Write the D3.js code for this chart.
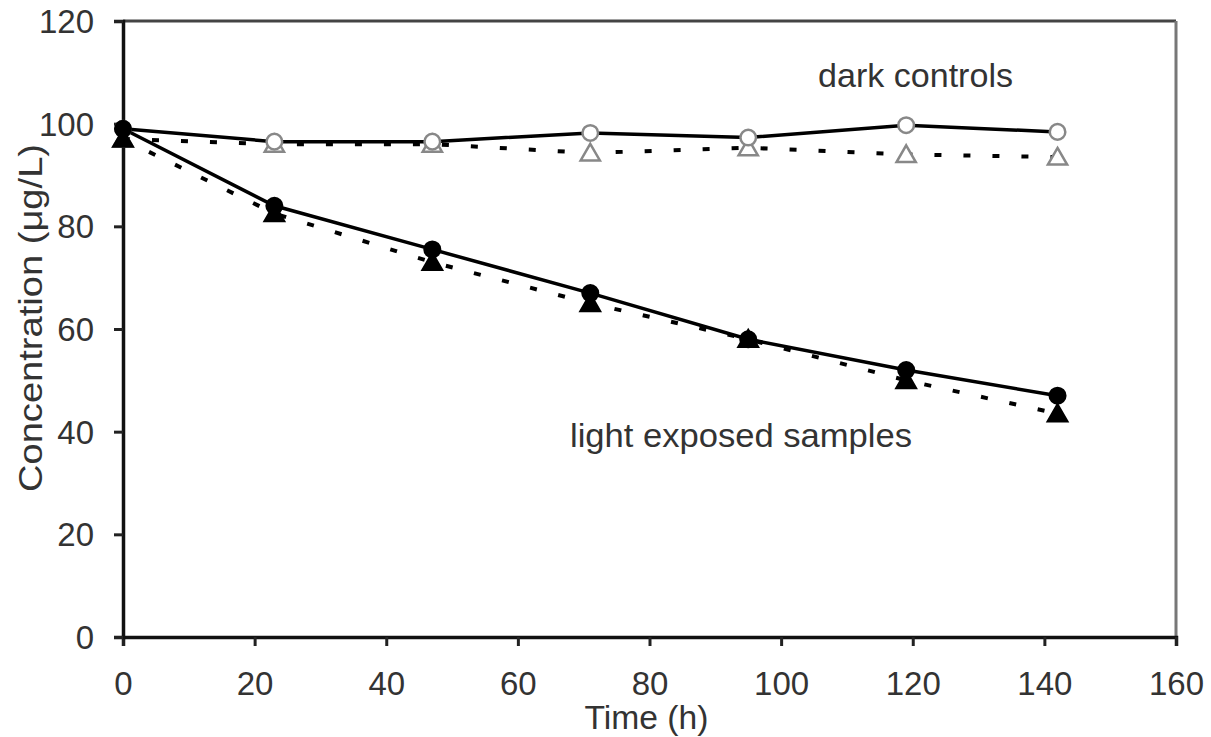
<!DOCTYPE html>
<html>
<head>
<meta charset="utf-8">
<script src="https://cdn.jsdelivr.net/npm/d3@7"></script>
<style>
  body { margin: 0; background: #fff; }
  text { font-family: "Liberation Sans", Arial, sans-serif; }
</style>
</head>
<body>
<div class="chart"></div>
<script>
var svgWidth = 1211;
var svgHeight = 737;

var margin = { top: 21, right: 35, bottom: 100, left: 123 };
var width = svgWidth - margin.left - margin.right;
var height = svgHeight - margin.top - margin.bottom;

// sampling times (h)
var times = [0, 23, 47, 71, 95, 119, 142];
// light exposed samples
var lightCircle = [99, 84, 75.5, 67, 58, 52, 47];
var lightTriangle = [97, 82.5, 73, 65, 58, 50, 43.5];
// dark controls
var darkCircle = [99, 96.5, 96.5, 98.2, 97.3, 99.7, 98.4];
var darkTriangle = [97, 96, 96, 94.3, 95.3, 94, 93.5];

var xTicks = [0, 20, 40, 60, 80, 100, 120, 140, 160];
var yTicks = [0, 20, 40, 60, 80, 100, 120];

var textColor = "#333";
var fontSize = "33px";

var $svg = d3.select(".chart")
    .append("svg")
    .attr("width", svgWidth)
    .attr("height", svgHeight);

var $chartGroup = $svg.append("g")
    .attr("transform", `translate(${margin.left}, ${margin.top})`);

var xScale = d3.scaleLinear().domain([0, 160]).range([0, width]);
var yScale = d3.scaleLinear().domain([0, 120]).range([height, 0]);

// frame top / right
$chartGroup.append("line")
    .attr("x1", 0).attr("x2", width).attr("y1", 0).attr("y2", 0)
    .attr("stroke", "#444").attr("stroke-width", 3);
$chartGroup.append("line")
    .attr("x1", width).attr("x2", width).attr("y1", 0).attr("y2", height)
    .attr("stroke", "#777").attr("stroke-width", 3);

var xAxis = d3.axisBottom(xScale).tickValues(xTicks).tickSize(9).tickPadding(26);
var yAxis = d3.axisLeft(yScale).tickValues(yTicks).tickSize(9).tickPadding(20);

var $xAxis = $chartGroup.append("g")
    .attr("transform", `translate(0,${height})`)
    .call(xAxis);
var $yAxis = $chartGroup.append("g").call(yAxis);

[$xAxis, $yAxis].forEach(ax => {
    ax.select(".domain").attr("stroke", "#111").attr("stroke-width", 3.5);
    ax.selectAll(".tick line").attr("stroke", "#222").attr("stroke-width", 3);
    ax.selectAll(".tick text")
        .attr("fill", textColor)
        .style("font-size", fontSize);
});
$yAxis.selectAll(".tick text").attr("dy", "0.35em");

// lines
var line = d3.line()
    .x(d => xScale(d[0]))
    .y(d => yScale(d[1]));

function pairs(vals) { return times.map((t, i) => [t, vals[i]]); }

var series = [
    { vals: darkTriangle, dash: "7,22", shape: "triangle", fill: "#fff", stroke: "#888" },
    { vals: darkCircle, dash: null, shape: "circle", fill: "#fff", stroke: "#888" },
    { vals: lightTriangle, dash: "7,22", shape: "triangle", fill: "#000", stroke: "#000" },
    { vals: lightCircle, dash: null, shape: "circle", fill: "#000", stroke: "#000" }
];

series.forEach(s => {
    $chartGroup.append("path")
        .datum(pairs(s.vals))
        .attr("fill", "none")
        .attr("stroke", "#000")
        .attr("stroke-width", s.dash ? 4 : 3.5)
        .attr("stroke-dasharray", s.dash)
        .attr("d", line);
});

series.forEach(s => {
    var sym = d3.symbol()
        .type(s.shape == "circle" ? d3.symbolCircle : d3.symbolTriangle)
        .size(s.shape == "circle" ? 190 : 160);
    $chartGroup.selectAll(null)
        .data(pairs(s.vals))
        .enter()
        .append("path")
        .attr("d", sym)
        .attr("transform", d => `translate(${xScale(d[0])},${yScale(d[1]) + (s.shape == "triangle" ? 2 : 0)})`)
        .attr("fill", s.fill)
        .attr("stroke", s.stroke)
        .attr("stroke-width", 2.5);
});

// annotations
$chartGroup.append("text")
    .attr("x", 818 - margin.left).attr("y", 87 - margin.top)
    .attr("textLength", 195)
    .attr("lengthAdjust", "spacingAndGlyphs")
    .attr("fill", textColor)
    .style("font-size", fontSize)
    .text("dark controls");

$chartGroup.append("text")
    .attr("x", 570 - margin.left).attr("y", 447 - margin.top)
    .attr("textLength", 342)
    .attr("lengthAdjust", "spacingAndGlyphs")
    .attr("fill", textColor)
    .style("font-size", fontSize)
    .text("light exposed samples");

// axis titles
$chartGroup.append("text")
    .attr("x", width / 2 - 3).attr("y", height + 92)
    .attr("text-anchor", "middle")
    .attr("textLength", 124)
    .attr("lengthAdjust", "spacingAndGlyphs")
    .attr("fill", textColor)
    .style("font-size", fontSize)
    .text("Time (h)");

$chartGroup.append("text")
    .attr("transform", `translate(-81,${318 - margin.top}) rotate(-90)`)
    .attr("text-anchor", "middle")
    .attr("textLength", 348)
    .attr("lengthAdjust", "spacingAndGlyphs")
    .attr("fill", textColor)
    .style("font-size", fontSize)
    .text("Concentration (μg/L)");
</script>
</body>
</html>
